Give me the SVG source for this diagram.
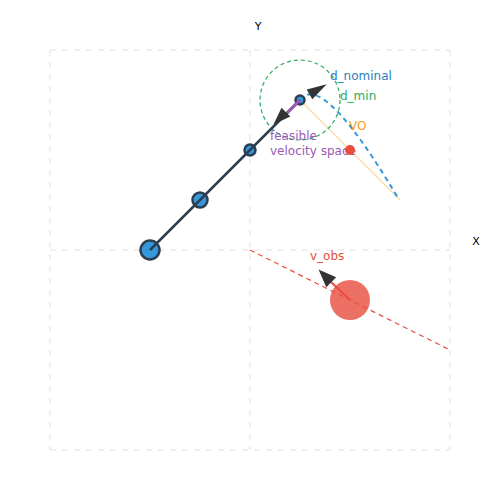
<svg xmlns="http://www.w3.org/2000/svg" width="500" height="500" viewBox="0 0 500 500">
<style>
text{font-family:"DejaVu Sans","Liberation Sans",sans-serif;font-size:12px}
.ax{font-size:11px}
.grid{stroke:#ebebeb;stroke-width:1.5;stroke-dasharray:6,6;fill:none}
.pt{fill:#3498db;stroke:#2c3e50;stroke-width:2.5}
.head{fill:#333}
</style>
<rect width="500" height="500" fill="#fff"/>
<g id="grid">
<path class="grid" d="M50 50H450M50 250H450M50 450H450M50 50V450M250 50V450M450 50V450"/>
</g>
<g id="axes">
<text class="ax" x="258" y="30" text-anchor="middle">Y</text>
<text class="ax" x="476" y="245" text-anchor="middle">X</text>
</g>
<g id="connectors">
<line x1="300" y1="100" x2="400" y2="200" stroke="#f8c471" stroke-opacity="0.6" stroke-width="1.5"/>
<path d="M300 100 Q322 70 398 198" fill="none" stroke="#3498db" stroke-width="2" stroke-dasharray="5,4"/>
<circle cx="300" cy="100" r="40" fill="none" stroke="#27ae60" stroke-width="1.2" stroke-dasharray="4,3"/>
<line x1="250" y1="250" x2="450" y2="350" stroke="#e74c3c" stroke-width="1.2" stroke-dasharray="5,4"/>
</g>
<g id="trajectory">
<circle class="pt" cx="150" cy="250" r="9.5"/>
<circle class="pt" cx="200" cy="200" r="7.5"/>
<circle class="pt" cx="250" cy="150" r="5.5"/>
<circle class="pt" cx="300" cy="100" r="4.5"/>
<line x1="150" y1="250" x2="300" y2="100" stroke="#2c3e50" stroke-width="2.5"/>
</g>
<g id="feasible">
<line x1="300" y1="100" x2="287" y2="113" stroke="#9b59b6" stroke-width="3"/>
<polygon class="head" points="273.5,124.5 290.3,116.5 281.5,107.7"/>
<text x="270" y="140" fill="#9b59b6">feasible</text>
<text x="270" y="155" fill="#9b59b6">velocity space</text>
</g>
<g id="nominal">
<polygon class="head" points="326.7,84.3 312.3,99.2 306.7,89.6"/>
<text x="330" y="80" fill="#2980b9">d_nominal</text>
<text x="340" y="100" fill="#27ae60">d_min</text>
</g>
<g id="vo">
<circle cx="350" cy="150" r="5" fill="#e74c3c"/>
<text x="349" y="130" fill="#f39c12">VO</text>
</g>
<g id="obstacle">
<circle cx="350" cy="300" r="20" fill="#e74c3c" fill-opacity="0.8"/>
<line x1="350" y1="300" x2="331" y2="282" stroke="#e74c3c" stroke-width="2"/>
<polygon class="head" points="318.5,269.5 336.2,277.2 326.3,287.2"/>
<text x="310" y="260" fill="#e74c3c">v_obs</text>
</g>
</svg>
